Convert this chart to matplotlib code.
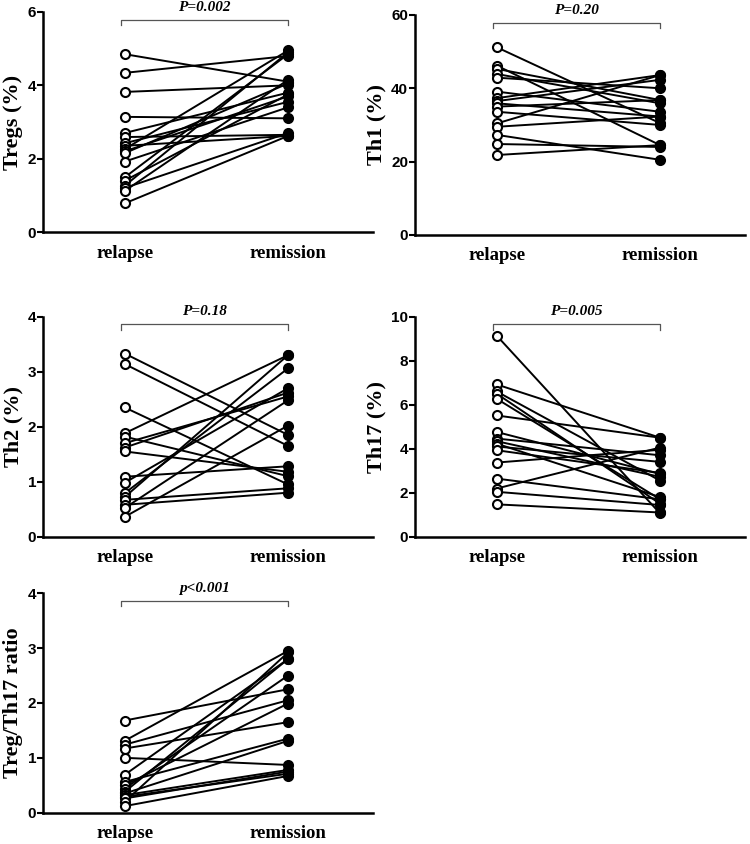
import matplotlib.pyplot as plt

groups = ['relapse', 'remission']

tregs_relapse = [4.85, 4.34, 3.82, 3.14, 2.70, 2.59, 2.42, 2.35, 2.26, 2.20, 2.15, 1.92, 1.49, 1.40, 1.26, 1.20, 1.12, 0.78]
tregs_remission = [4.10, 4.80, 4.00, 3.10, 3.80, 2.65, 3.55, 2.62, 4.95, 3.70, 4.05, 3.40, 4.85, 3.75, 4.90, 2.70, 4.15, 2.62]

th1_relapse = [51.2, 46.2, 45.3, 43.9, 42.9, 39.1, 37.3, 36.5, 35.9, 35.0, 33.6, 30.4, 29.5, 27.3, 24.8, 21.8]
th1_remission = [30.5, 24.5, 36.8, 35.9, 40.0, 33.6, 43.6, 42.3, 32.3, 36.8, 30.0, 43.6, 32.3, 20.5, 24.0, 24.5]

th2_relapse = [3.33, 3.14, 2.35, 1.88, 1.82, 1.70, 1.62, 1.55, 1.09, 0.98, 0.79, 0.72, 0.67, 0.58, 0.52, 0.36]
th2_remission = [1.85, 1.65, 0.95, 3.30, 1.10, 2.55, 2.62, 1.18, 1.28, 2.70, 3.06, 3.30, 0.88, 0.80, 2.48, 2.02]

th17_relapse = [9.14, 6.92, 6.60, 6.50, 6.27, 5.51, 4.76, 4.46, 4.34, 4.23, 4.10, 3.93, 3.37, 2.64, 2.19, 2.04, 1.47]
th17_remission = [1.06, 4.50, 2.55, 1.50, 1.70, 4.50, 2.85, 3.70, 2.72, 1.80, 3.40, 2.90, 3.95, 1.70, 4.05, 1.44, 1.10]

ratio_relapse = [1.68, 1.31, 1.24, 1.17, 1.00, 0.69, 0.56, 0.50, 0.44, 0.38, 0.35, 0.32, 0.29, 0.26, 0.20, 0.12]
ratio_remission = [2.25, 2.95, 2.05, 1.65, 0.87, 2.80, 1.35, 1.99, 2.50, 2.80, 1.31, 0.78, 0.71, 0.75, 2.92, 0.67]

panels = [
    # (axes rect, ylabel, ymax, yticks, p text, relapse, remission)
    ([0.0573, 0.7251, 0.44, 0.2607], 'Tregs (%)', 6, [0, 2, 4, 6], 'P=0.002', tregs_relapse, tregs_remission),
    ([0.5533, 0.7216, 0.44, 0.2607], 'Th1 (%)', 60, [0, 20, 40, 60], 'P=0.20', th1_relapse, th1_remission),
    ([0.0573, 0.3641, 0.44, 0.2607], 'Th2 (%)', 4, [0, 1, 2, 3, 4], 'P=0.18', th2_relapse, th2_remission),
    ([0.5533, 0.3641, 0.44, 0.2607], 'Th17 (%)', 10, [0, 2, 4, 6, 8, 10], 'P=0.005', th17_relapse, th17_remission),
    ([0.0573, 0.0371, 0.44, 0.2600], 'Treg/Th17 ratio', 4, [0, 1, 2, 3, 4], 'p<0.001', ratio_relapse, ratio_remission),
]

serif = 'Liberation Serif'
sans = 'Liberation Sans'

fig = plt.figure(figsize=(7.5, 8.44), dpi=100)

for rect, ylab, ymax, yticks, ptext, rel, rem in panels:
    ax = fig.add_axes(rect)
    for a, b in zip(rel, rem):
        ax.plot([0, 1], [a, b], color='black', lw=1.4, zorder=2)
    ax.plot([0] * len(rel), rel, 'o', ms=6.5, mfc='white', mec='black', mew=1.5, ls='none', zorder=3)
    ax.plot([1] * len(rem), rem, 'o', ms=6.5, mfc='black', mec='black', mew=1.5, ls='none', zorder=3)

    ax.set_xlim(-0.5, 1.52)
    ax.set_ylim(0, ymax)
    ax.set_yticks(yticks)
    ax.set_yticklabels([str(t) for t in yticks], fontfamily=sans, fontweight='bold', fontsize=11)
    ax.set_xticks([0, 1])
    ax.set_xticklabels(groups, fontfamily=serif, fontweight='bold', fontsize=13.5)
    ax.tick_params(axis='x', length=0, pad=9)
    ax.tick_params(axis='y', length=4, width=1.5, pad=1)
    ax.set_ylabel(ylab, fontfamily=serif, fontweight='bold', fontsize=16, labelpad=3)

    for s in ['top', 'right']:
        ax.spines[s].set_visible(False)
    for s in ['left', 'bottom']:
        ax.spines[s].set_linewidth(1.8)

    # significance bracket above the groups
    top = ymax * 0.965
    tick = ymax * 0.025
    ax.plot([-0.02, -0.02, 1.0, 1.0], [top - tick, top, top, top - tick],
            color='#555555', lw=0.9, clip_on=False)
    ax.text(0.49, ymax * 1.022, ptext, ha='center', va='center',
            fontfamily=serif, fontweight='bold', fontstyle='italic', fontsize=11)

fig.savefig('out.png', dpi=100)
